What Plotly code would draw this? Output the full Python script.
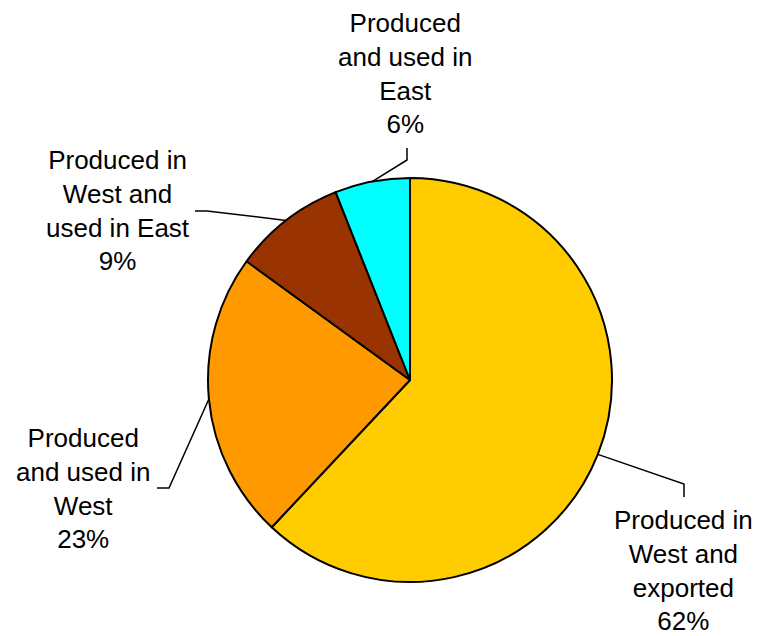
import math
import plotly.graph_objects as go

# ---- data ----
labels = [
    "Produced in<br>West and<br>exported",
    "Produced<br>and used in<br>West",
    "Produced in<br>West and<br>used in East",
    "Produced<br>and used in<br>East",
]
values = [62, 23, 9, 6]
colors = ["#FFCC00", "#FF9900", "#993300", "#00FFFF"]

# ---- layout constants (pixels) ----
W, H = 759, 636
cx, cy, r = 410, 380, 202
label_layout = [
    dict(elbow=(684, 484), end=(684, 497), text=(683, 570)),
    dict(elbow=(169, 488), end=(157, 488), text=(83, 488)),
    dict(elbow=(207, 211), end=(195, 211), text=(118, 210)),
    dict(elbow=(407, 160), end=(407, 148), text=(405, 73)),
]
FONT = "Liberation Sans, Arial, sans-serif"
FSIZE = 26


def px(x):
    return x / W


def py(y):
    return 1 - y / H


fig = go.Figure()
fig.add_trace(go.Pie(
    labels=labels,
    values=values,
    sort=False,
    direction="clockwise",
    rotation=0,
    textinfo="none",
    hoverinfo="label+percent",
    marker=dict(colors=colors, line=dict(color="black", width=2)),
    domain=dict(x=[px(cx - r), px(cx + r)], y=[py(cy + r), py(cy - r)]),
    showlegend=False,
))

total = sum(values)
cum = 0
shapes = []
annotations = []
for lab, v, lay in zip(labels, values, label_layout):
    mid = (cum + v / 2) / total * 2 * math.pi
    cum += v
    sx = cx + r * math.sin(mid)
    sy = cy - r * math.cos(mid)
    ex, ey = lay["elbow"]
    tx, ty = lay["end"]
    path = f"M {px(sx)} {py(sy)} L {px(ex)} {py(ey)} L {px(tx)} {py(ty)}"
    shapes.append(dict(type="path", xref="paper", yref="paper", path=path,
                       line=dict(color="black", width=1.5)))
    pct = round(v / total * 100)
    annotations.append(dict(
        x=px(lay["text"][0]), y=py(lay["text"][1]), xref="paper", yref="paper",
        text=f"{lab}<br>{pct}%", showarrow=False, xanchor="center", yanchor="middle",
        align="center", font=dict(family=FONT, size=FSIZE, color="black"),
    ))

fig.update_layout(
    width=W, height=H,
    margin=dict(l=0, r=0, t=0, b=0),
    paper_bgcolor="white", plot_bgcolor="white",
    shapes=shapes, annotations=annotations,
    font=dict(family=FONT, size=FSIZE, color="black"),
)

fig.write_html(
    "out.html",
    config={"displayModeBar": False},
    post_script="document.body.style.margin='0';document.body.style.overflow='hidden';",
)
